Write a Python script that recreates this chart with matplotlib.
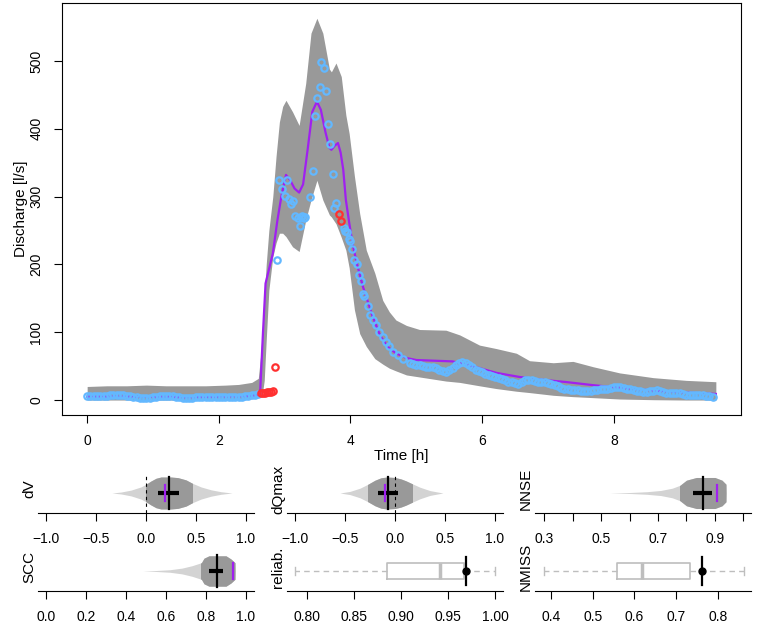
import numpy as np
import matplotlib; matplotlib.use('Agg')
import matplotlib.pyplot as plt
from matplotlib.patches import Rectangle

plt.rcParams['font.family'] = ['Liberation Sans', 'DejaVu Sans']

# ---------------- hydrograph ----------------
# 90% band of the ensemble
t_band = [0.00, 0.30, 0.60, 0.90, 1.20, 1.50, 1.80, 2.10, 2.30, 2.50, 2.60, 2.64, 2.67,
          2.69, 2.72, 2.76, 2.82, 2.87, 2.92, 2.97, 3.02, 3.12, 3.22, 3.32, 3.40, 3.49,
          3.58, 3.68, 3.71, 3.78, 3.86, 3.93, 3.98, 4.06, 4.14, 4.24, 4.37, 4.49, 4.59,
          4.69, 4.85, 5.05, 5.45, 5.66, 5.96, 6.21, 6.52, 6.72, 7.08, 7.38, 7.69, 8.09,
          8.60, 9.10, 9.55]
band_hi = [20, 21, 21, 22, 21, 21, 21, 22, 23, 26, 32, 70, 120,
           150, 200, 250, 300, 360, 410, 433, 442, 425, 405, 467, 541, 563,
           541, 488, 484, 497, 477, 420, 393, 330, 275, 221, 187, 147, 130,
           118, 110, 104, 103, 96, 81, 76, 69, 58, 55, 57, 49, 40,
           33, 29, 27]
band_lo = [0, 0, 0, 0, 0, 0, 0, 0, 1, 2, 4, 8, 15,
           29, 88, 162, 211, 232, 246, 246, 241, 226, 219, 265, 295, 324,
           295, 273, 270, 260, 240, 221, 195, 133, 98, 79, 61, 53, 47,
           43, 37, 34, 28, 26, 21, 17, 13, 11, 7, 5, 3.5, 1.5,
           0.5, 0, 0]

# simulation with best parameters
t_sim = [0.0, 0.5, 1.0, 1.5, 2.0, 2.5, 2.60, 2.63, 2.67, 2.71, 2.76, 2.82, 2.89, 2.95,
         3.02, 3.08, 3.15, 3.22, 3.28, 3.35, 3.42, 3.49, 3.55, 3.62, 3.68, 3.71, 3.76,
         3.81, 3.85, 3.89, 3.93, 3.98, 4.03, 4.10, 4.19, 4.33, 4.45, 4.57, 4.69, 4.85,
         5.00, 5.55, 5.85, 6.22, 6.57, 6.90, 7.28, 7.68, 8.10, 8.60, 9.10, 9.55]
q_sim = [5, 5, 5, 4, 5, 6, 8, 16, 98, 172, 192, 216, 265, 300,
         332, 325, 312, 306, 318, 370, 425, 440, 428, 395, 372, 369, 375,
         379, 365, 340, 295, 262, 231, 200, 167, 125, 95, 78, 69, 62,
         59, 57, 50, 40, 34, 30, 26.5, 22, 18, 14, 11, 9]

# observations: low flow before the event
t_obs_base = np.arange(0.0, 2.601, 0.05)
q_obs_base = [5.5, 5.6, 5.8, 5.9, 6.0, 6.2, 6.5, 6.8, 7.0, 7.2, 7.3, 7.0, 6.5, 5.8,
              5.0, 4.2, 3.5, 3.1, 3.0, 3.4, 4.0, 4.8, 5.5, 5.9, 6.0, 5.9, 5.5, 4.8,
              4.0, 3.3, 2.8, 2.7, 3.0, 3.8, 4.5, 4.8, 5.0, 5.2, 5.2, 5.1, 5.0, 4.9,
              4.8, 4.6, 4.5, 4.6, 4.8, 5.0, 5.5, 6.2, 7.0, 7.8, 8.5]
# observations: event
t_obs_peak = [2.89, 2.92, 2.96, 3.00, 3.04, 3.06, 3.10, 3.12, 3.16, 3.20, 3.23, 3.25,
              3.27, 3.29, 3.31, 3.39, 3.43, 3.46, 3.49, 3.53, 3.55, 3.60, 3.63, 3.66,
              3.69, 3.73, 3.75, 3.78, 3.90, 3.92, 3.95, 3.98, 4.00, 4.03, 4.06, 4.10,
              4.13, 4.16, 4.19, 4.21, 4.26, 4.30, 4.34, 4.39, 4.44, 4.49, 4.54, 4.59,
              4.65, 4.72, 4.80, 4.90, 4.95]
q_obs_peak = [206, 324, 311, 301, 324, 296, 289, 293, 272, 268, 257, 270,
              271, 268, 270, 299, 338, 419, 445, 462, 499, 490, 455, 407,
              378, 334, 283, 290, 253, 250, 248, 237, 235, 222, 207, 200,
              184, 175, 157, 154, 139, 125, 118, 111, 101, 93, 86, 79,
              71, 66, 60, 54, 53]
# observations: recession
t_obs_tail = np.arange(5.0, 9.501, 0.05)
q_obs_tail = [52, 51, 50, 49, 48, 48, 47, 45, 43, 42, 44, 47, 51, 55, 56, 54, 52, 49,
              45, 43, 41, 39, 37, 35, 34, 32, 31, 29, 27, 26, 25, 24, 26, 29, 30, 29,
              28, 27, 27, 26, 25, 24, 22, 20, 18, 17, 16, 15, 15, 15, 14, 14, 14, 14,
              15, 15, 16, 16, 17, 18, 19, 19, 19, 18, 17, 16, 15, 14, 13, 12, 12, 13,
              14, 15, 13, 12, 11, 11, 10, 10, 10, 9, 8, 8, 7, 7, 7, 7, 6, 6, 5]

# observations flagged as outliers
t_out = [2.64, 2.67, 2.70, 2.73, 2.76, 2.79, 2.82, 2.86, 3.82, 3.86]
q_out = [10, 10.5, 11, 11.5, 12, 12.5, 13.5, 48, 274, 264]

# ---------------- performance panels ----------------
dv_x = [-0.34, -0.25, -0.15, -0.05, 0.00, 0.05, 0.10, 0.15, 0.25, 0.32, 0.40, 0.46, 0.55, 0.65, 0.75, 0.86]
dv_w = [0.0, 0.06, 0.18, 0.38, 0.55, 0.75, 0.92, 1.0, 1.0, 0.96, 0.82, 0.62, 0.38, 0.2, 0.08, 0.0]
dv_stats = dict(dark=(0.0, 0.46), med=0.23, bar=(0.12, 0.33), ref=0.19)

dq_x = [-0.55, -0.45, -0.35, -0.27, -0.20, -0.14, -0.08, 0.00, 0.06, 0.11, 0.165, 0.25, 0.35, 0.48]
dq_w = [0.0, 0.1, 0.3, 0.55, 0.8, 0.95, 1.0, 0.97, 0.88, 0.76, 0.6, 0.36, 0.15, 0.0]
dq_stats = dict(dark=(-0.27, 0.165), med=-0.07, bar=(-0.17, 0.03), ref=-0.10)

nse_x = [0.53, 0.60, 0.66, 0.71, 0.75, 0.777, 0.80, 0.835, 0.90, 0.925, 0.939, 0.9395]
nse_w = [0.0, 0.03, 0.08, 0.16, 0.3, 0.48, 0.8, 0.97, 0.97, 0.8, 0.55, 0.0]
nse_stats = dict(dark=(0.777, 0.94), med=0.859, bar=(0.822, 0.889), ref=0.909)

scc_x = [0.484, 0.55, 0.62, 0.68, 0.73, 0.777, 0.79, 0.815, 0.90, 0.925, 0.945, 0.9455]
scc_w = [0.0, 0.03, 0.08, 0.18, 0.33, 0.52, 0.8, 0.95, 0.95, 0.75, 0.52, 0.0]
scc_stats = dict(dark=(0.777, 0.946), med=0.853, bar=(0.816, 0.886), ref=0.936)

rel_box = dict(whislo=0.788, q1=0.8857, med=0.9418, q3=0.9666, whishi=1.0)
rel_best = 0.969
nmiss_box = dict(whislo=0.384, q1=0.5576, med=0.6175, q3=0.7335, whishi=0.863)
nmiss_best = 0.763

W, H = 763., 634.
fig = plt.figure(figsize=(W/100, H/100), dpi=100)

def px_axes(l, t, r, b):
    return fig.add_axes([l/W, 1-b/H, (r-l)/W, (b-t)/H])

# ---- main plot ----
ax = px_axes(62, 3, 741, 415.3)
ax.fill_between(t_band, band_lo, band_hi, color='#999999', lw=0)
ax.plot(t_sim, q_sim, color='#A020F0', lw=1.6)
circ = dict(ls='none', marker='o', mfc='none', ms=4.6, mew=1.6)
ax.plot(t_obs_base, q_obs_base, mec='#63B8FF', **circ)
ax.plot(t_obs_peak, q_obs_peak, mec='#63B8FF', **circ)
ax.plot(t_obs_tail, q_obs_tail, mec='#63B8FF', **circ)
ax.plot(t_out, q_out, mec='#FF3030', **circ)
ax.set_xlim(-0.382, 9.932)
ax.set_ylim(-22.5, 585.5)
ax.set_xticks([0, 2, 4, 6, 8])
ax.set_yticks([0, 100, 200, 300, 400, 500])
ax.set_yticklabels(['0', '100', '200', '300', '400', '500'], rotation=90, va='center')
ax.tick_params(direction='out', length=5.5, width=0.8, labelsize=10, pad=8)
for s in ax.spines.values():
    s.set_linewidth(0.8)
fig.text(401/W, 1-456/H, 'Time [h]', ha='center', va='center', fontsize=11)
fig.text(21/W, 1-209/H, 'Discharge [l/s]', ha='center', va='center', rotation=90, fontsize=11)

# ---- lower panels ----
rows = [(468, 513), (546, 591)]
cols = [38, 287, 535]

def panel(r, c, xlim, ticks, labels, name, lab_x):
    top, bot = rows[r]
    a = px_axes(cols[c], top, cols[c] + 216, bot)
    a.set_xlim(*xlim)
    a.set_ylim(-1.25, 1.5625)
    for s in ['left', 'top', 'right']:
        a.spines[s].set_visible(False)
    a.spines['bottom'].set_linewidth(0.8)
    a.set_yticks([])
    a.set_xticks(ticks)
    a.set_xticklabels(labels)
    a.tick_params(axis='x', direction='out', length=5.5, width=0.8, labelsize=10, pad=8)
    fig.text(lab_x/W, 1-((top + bot)/2 - 1.5)/H, name, ha='center', va='center',
             rotation=90, fontsize=11)
    return a

def violin(a, x, w, st, zero=False):
    w = np.array(w)
    a.fill_between(x, -w, w, color='#D3D3D3', lw=0)
    d = a.fill_between(x, -w, w, color='#999999', lw=0)
    lo, hi = st['dark']
    d.set_clip_path(Rectangle((lo, -2), hi - lo, 4, transform=a.transData))
    if zero:
        a.plot([0, 0], [-1.25, 1.27], color='k', lw=0.8, dashes=(3, 3))
    a.plot([st['med'], st['med']], [-0.98, 1.0], color='k', lw=1.6)
    a.plot(st['bar'], [0, 0], color='k', lw=3, solid_capstyle='butt')
    a.plot([st['ref'], st['ref']], [-0.52, 0.52], color='#A020F0', lw=1.6)

def boxp(a, stats, best):
    a.bxp([stats], positions=[0], widths=1.0, orientation='horizontal', showfliers=False,
          capwidths=0.45,
          boxprops=dict(color='#BEBEBE', lw=1.2),
          whiskerprops=dict(color='#BEBEBE', lw=1.0, dashes=(4, 3)),
          capprops=dict(color='#BEBEBE', lw=1.0),
          medianprops=dict(color='#BEBEBE', lw=2.5))
    a.plot([best, best], [-0.87, 0.87], color='k', lw=1.6)
    a.plot([best], [0], 'ko', ms=5)
    a.set_ylim(-1.25, 1.5625)
    a.set_yticks([])

mm = '\u2212'
sym = [mm + '1.0', mm + '0.5', '0.0', '0.5', '1.0']

a = panel(0, 0, (-1.08, 1.08), [-1, -0.5, 0, 0.5, 1], sym, 'dV', 29)
violin(a, dv_x, dv_w, dv_stats, zero=True)
a = panel(0, 1, (-1.08, 1.08), [-1, -0.5, 0, 0.5, 1], sym, 'dQmax', 278)
violin(a, dq_x, dq_w, dq_stats, zero=True)
a = panel(0, 2, (0.2673, 1.027), [0.3, 0.4, 0.5, 0.6, 0.7, 0.8, 0.9, 1.0],
          ['0.3', '', '0.5', '', '0.7', '', '0.9', ''], 'NNSE', 526)
violin(a, nse_x, nse_w, nse_stats)

a = panel(1, 0, (-0.04, 1.04), [0, 0.2, 0.4, 0.6, 0.8, 1.0],
          ['0.0', '0.2', '0.4', '0.6', '0.8', '1.0'], 'SCC', 29)
violin(a, scc_x, scc_w, scc_stats)
a = panel(1, 1, (0.7791, 1.0085), [0.80, 0.85, 0.90, 0.95, 1.00],
          ['0.80', '0.85', '0.90', '0.95', '1.00'], 'reliab.', 278)
boxp(a, rel_box, rel_best)
a = panel(1, 2, (0.3616, 0.880), [0.4, 0.5, 0.6, 0.7, 0.8],
          ['0.4', '0.5', '0.6', '0.7', '0.8'], 'NMISS', 526)
boxp(a, nmiss_box, nmiss_best)

fig.savefig('out.png', dpi=100)
